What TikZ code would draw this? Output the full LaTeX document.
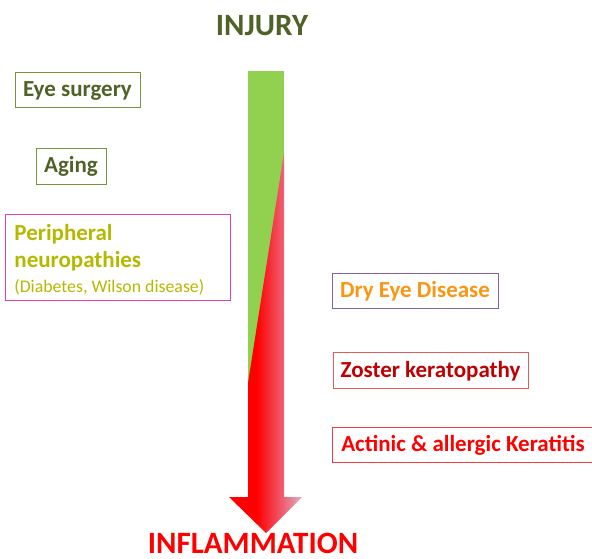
\documentclass[tikz,border=0pt]{standalone}
\usepackage{fontspec}
\setmainfont{Carlito}
\usepackage{tikz}
\usetikzlibrary{positioning}

\definecolor{injurygreen}{RGB}{79,98,40}
\definecolor{boxgreen}{RGB}{119,147,60}
\definecolor{arrowgreen}{RGB}{146,208,80}
\definecolor{neuroyellow}{RGB}{180,185,0}
\definecolor{neuromagenta}{RGB}{224,64,184}
\definecolor{dryorange}{RGB}{250,150,20}
\definecolor{drypurple}{RGB}{128,100,162}
\definecolor{zosterred}{RGB}{192,0,0}
\definecolor{zosterline}{RGB}{230,90,90}
\definecolor{actinicline}{RGB}{240,60,60}
\definecolor{fadepink}{RGB}{238,96,116}
\definecolor{fadegray}{RGB}{224,176,190}

\pgfdeclarehorizontalshading{redfade}{100bp}{color(0bp)=(red); color(25bp)=(red); color(44bp)=(red); color(62bp)=(fadepink); color(75bp)=(fadegray); color(100bp)=(fadegray)}

\begin{document}
\begin{tikzpicture}[x=1pt,y=-1pt,
  causebox/.style={draw,line width=0.8pt,inner sep=0pt,minimum height=35pt,
    font=\bfseries\fontsize{23}{27}\selectfont},
  singleline/.style={causebox,text height=15pt,text depth=1pt},
  title/.style={inner sep=0pt,font=\bfseries\fontsize{31}{36}\selectfont}]
\useasboundingbox (0,0) rectangle (592,559);

%arrow
\fill[arrowgreen] (248,71) rectangle (284,497);
\shade[shading=redfade] (284,153) -- (284,497) -- (302,497) -- (266,533) -- (229,497) -- (248,497) -- (248,383) -- cycle;

%titles
\node[title,text=injurygreen] (injury) at (262,26) {INJURY};
\node[title,text=red,anchor=base,text depth=0pt] (inflammation) at (253,553) {INFLAMMATION};

%left boxes
\node[singleline,draw=boxgreen,text=injurygreen,minimum width=125pt] (surgery) at (77.5,89.5) {Eye surgery};
\node[singleline,draw=boxgreen,text=injurygreen,minimum width=70pt,minimum height=36pt] (aging) at (71,166) {Aging};
\node[causebox,draw=neuromagenta,text=neuroyellow,anchor=north west,minimum width=225pt,minimum height=86pt,
  text width=207pt,inner xsep=9pt,align=left] (neuro) at (5,214)
  {\spaceskip=0pt\xspaceskip=0pt\rule{0pt}{20pt}Peripheral\\neuropathies\\[-2pt]{\mdseries\fontsize{17.8}{24}\selectfont(Diabetes, Wilson disease)}};

%right boxes
\node[singleline,draw=drypurple,text=dryorange,minimum width=166pt] (dry) at (415,290.5) {Dry Eye Disease};
\node[singleline,draw=zosterline,text=zosterred,minimum width=195pt,minimum height=36pt] (zoster) at (430.5,370) {Zoster keratopathy};
\node[singleline,draw=actinicline,text=red,minimum width=262pt] (actinic) at (463,444.5) {Actinic \& allergic Keratitis};

\end{tikzpicture}
\end{document}
